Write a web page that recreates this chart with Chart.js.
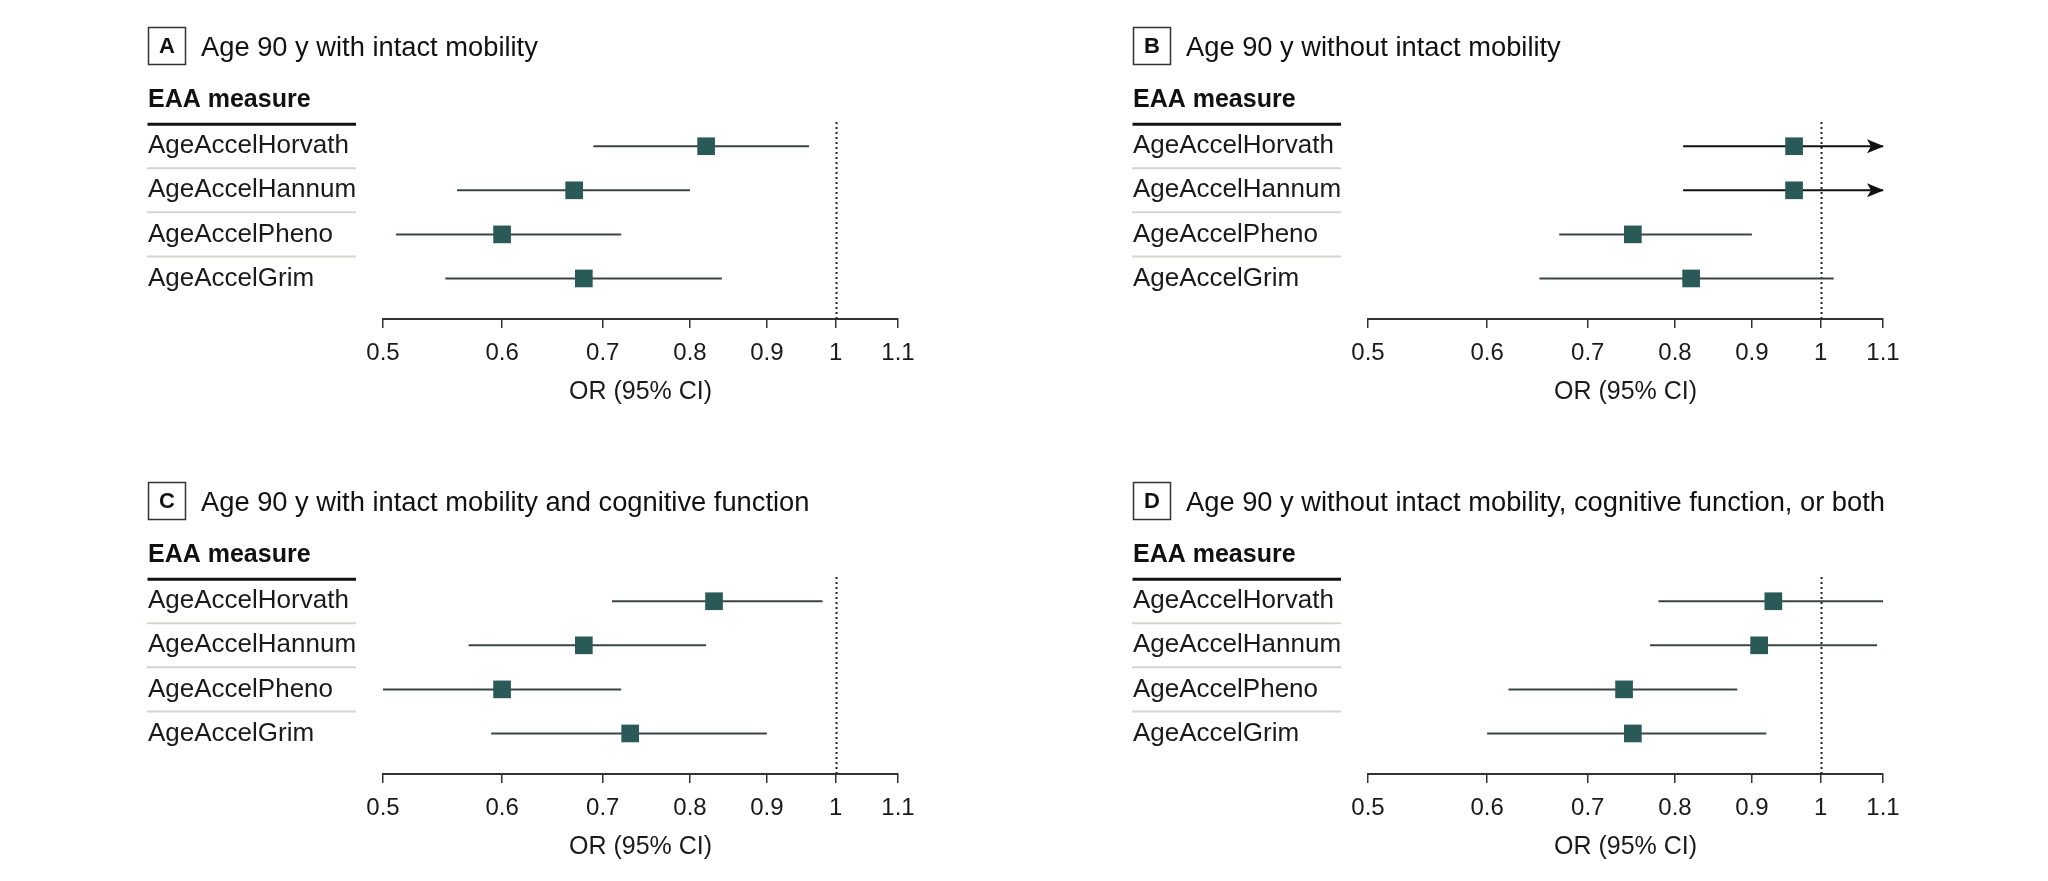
<!DOCTYPE html>
<html><head><meta charset="utf-8">
<script src="https://cdn.jsdelivr.net/npm/chart.js@4.4.1/dist/chart.umd.min.js"></script>
<style>
html,body{margin:0;padding:0;background:#fff;width:2048px;height:881px;overflow:hidden;position:relative}
.p{position:absolute;width:985px;height:426px}
</style></head><body>
<div class="p" style="left:0;top:0"><canvas id="cA"></canvas></div>
<div class="p" style="left:985px;top:0"><canvas id="cB"></canvas></div>
<div class="p" style="left:0;top:455px"><canvas id="cC"></canvas></div>
<div class="p" style="left:985px;top:455px"><canvas id="cD"></canvas></div>
<script>
// ---- data ----
const measures = ['AgeAccelHorvath', 'AgeAccelHannum', 'AgeAccelPheno', 'AgeAccelGrim'];
const xTicks = [0.5, 0.6, 0.7, 0.8, 0.9, 1, 1.1];
const panelLetters = ['A', 'B', 'C', 'D'];
const panelTitles = [
  'Age 90 y with intact mobility',
  'Age 90 y without intact mobility',
  'Age 90 y with intact mobility and cognitive function',
  'Age 90 y without intact mobility, cognitive function, or both'
];
const orA = [0.82, 0.67, 0.60, 0.68];
const loA = [0.69, 0.56, 0.51, 0.55];
const hiA = [0.96, 0.80, 0.72, 0.84];
const orB = [0.96, 0.96, 0.75, 0.82];
const loB = [0.81, 0.81, 0.67, 0.65];
const hiB = [1.14, 1.14, 0.90, 1.02];
const orC = [0.83, 0.68, 0.60, 0.73];
const loC = [0.71, 0.57, 0.50, 0.59];
const hiC = [0.98, 0.82, 0.72, 0.90];
const orD = [0.93, 0.91, 0.74, 0.75];
const loD = [0.78, 0.77, 0.62, 0.60];
const hiD = [1.10, 1.09, 0.88, 0.92];
const xMin = 0.5, xMax = 1.1, refValue = 1;

// ---- drawing ----
const FONT = "'Liberation Sans', Arial, sans-serif";
const TEXT = '#1a1a1a';

const decor = {
  id: 'decor',
  beforeDraw(chart, args, opts) {
    const ctx = chart.ctx, ys = chart.scales.y;
    ctx.save();
    ctx.strokeStyle = '#333'; ctx.lineWidth = 1.5;
    ctx.strokeRect(148.5, 27.5, 37, 37);
    ctx.fillStyle = '#111';
    ctx.font = 'bold 22px ' + FONT; ctx.textAlign = 'center'; ctx.textBaseline = 'middle';
    ctx.fillText(opts.letter, 167, 47);
    ctx.font = '27.3px ' + FONT; ctx.textAlign = 'left';
    ctx.fillText(opts.title, 201, 48);
    ctx.font = 'bold 25px ' + FONT;
    ctx.fillText('EAA measure', 148, 100);
    const hy = ys.getPixelForValue(-0.5);
    ctx.strokeStyle = '#111'; ctx.lineWidth = 3;
    ctx.beginPath(); ctx.moveTo(147.5, hy); ctx.lineTo(356, hy); ctx.stroke();
    ctx.strokeStyle = '#d8d6cc'; ctx.lineWidth = 2;
    for (let i = 0; i < measures.length - 1; i++) {
      const sy = ys.getPixelForValue(i + 0.5);
      ctx.beginPath(); ctx.moveTo(147, sy); ctx.lineTo(356, sy); ctx.stroke();
    }
    ctx.restore();
  },
  beforeDatasetsDraw(chart) {
    const ctx = chart.ctx, xs = chart.scales.x, a = chart.chartArea;
    const px = Math.round(xs.getPixelForValue(refValue)) + 0.5;
    ctx.save();
    ctx.strokeStyle = '#222'; ctx.lineWidth = 2; ctx.setLineDash([2, 3]);
    ctx.beginPath(); ctx.moveTo(px, a.top); ctx.lineTo(px, a.bottom); ctx.stroke();
    ctx.restore();
  },
  afterDatasetsDraw(chart, args, opts) {
    const ctx = chart.ctx, xs = chart.scales.x, ys = chart.scales.y;
    ctx.save();
    ctx.fillStyle = '#111';
    opts.hi.forEach((h, i) => {
      if (h > xMax) {
        const tx = xs.getPixelForValue(xMax), ty = ys.getPixelForValue(i);
        ctx.beginPath(); ctx.moveTo(tx + 1, ty); ctx.lineTo(tx - 16, ty - 7); ctx.lineTo(tx - 12, ty); ctx.lineTo(tx - 16, ty + 7); ctx.closePath(); ctx.fill();
      }
    });
    ctx.restore();
  }
};

function makeChart(id, k, orv, lo, hi) {
  const ciSets = measures.map((m, i) => ({
    type: 'line', label: m + ' CI',
    data: [{x: lo[i], y: i}, {x: Math.min(hi[i], xMax), y: i}],
    borderColor: hi[i] > xMax ? '#111' : '#3b4545', borderWidth: 2,
    pointRadius: 0, order: 2
  }));
  new Chart(document.getElementById(id), {
    type: 'scatter',
    data: { datasets: [...ciSets, {
      type: 'scatter', label: 'OR', data: orv.map((v, i) => ({x: v, y: i})),
      pointStyle: 'rect', pointRadius: 12.5, backgroundColor: '#2a5a57', borderWidth: 0, order: 1
    }]},
    options: {
      responsive: true, maintainAspectRatio: false, animation: false,
      layout: { padding: { left: 148, top: 122, right: 87, bottom: 0 } },
      plugins: { legend: { display: false }, tooltip: { enabled: false },
        decor: { letter: panelLetters[k], title: panelTitles[k], hi: hi } },
      scales: {
        x: {
          type: 'logarithmic', min: xMin, max: xMax,
          afterBuildTicks: s => { s.ticks = xTicks.map(v => ({ value: v })); },
          afterFit: s => { s.height = 107; },
          ticks: { autoSkip: false, maxRotation: 0, minRotation: 0, padding: 11, color: TEXT,
            font: { family: FONT, size: 24 }, callback: v => String(v) },
          grid: { display: true, drawOnChartArea: false, drawTicks: true, tickLength: 9, color: '#333', lineWidth: 1.5 },
          border: { display: true, color: '#333', width: 2 },
          title: { display: true, text: 'OR (95% CI)', color: TEXT, font: { family: FONT, size: 25 }, padding: { top: 0, bottom: 19 } }
        },
        y: {
          type: 'linear', reverse: true, min: -0.55, max: 3.92,
          afterBuildTicks: s => { s.ticks = measures.map((m, i) => ({ value: i })); },
          afterFit: s => { s.width = 235; },
          ticks: { crossAlign: 'far', padding: 0, autoSkip: false, color: TEXT,
            font: { family: FONT, size: 26 }, callback: v => measures[v] },
          grid: { display: false }, border: { display: false }
        }
      }
    },
    plugins: [decor]
  });
}

makeChart('cA', 0, orA, loA, hiA);
makeChart('cB', 1, orB, loB, hiB);
makeChart('cC', 2, orC, loC, hiC);
makeChart('cD', 3, orD, loD, hiD);
</script>
</body></html>
